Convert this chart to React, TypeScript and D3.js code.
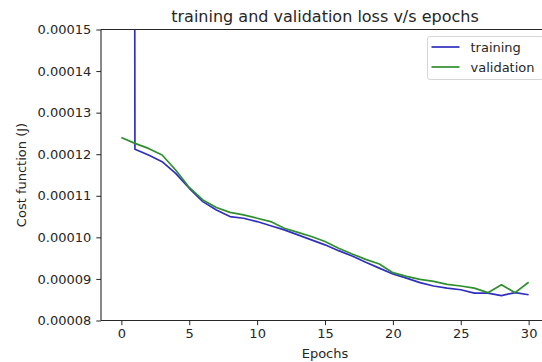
import React, { useEffect, useRef } from 'react';
import * as d3 from 'd3';

// values (first training value is far above the axis)
const epochs = d3.range(0, 31);
const trainingLoss = [
  0.0025, 0.0001212, 0.0001198, 0.0001182, 0.0001154, 0.0001118, 0.0001086,
  0.0001066, 0.0001050, 0.0001046, 0.0001038, 0.0001028, 0.0001018, 0.0001006,
  0.0000994, 0.0000982, 0.0000968, 0.0000955, 0.0000940, 0.0000926, 0.0000912,
  0.0000902, 0.0000891, 0.0000883, 0.0000878, 0.0000874, 0.0000866, 0.0000866,
  0.0000860, 0.0000867, 0.0000862,
];
const validationLoss = [
  0.0001240, 0.0001226, 0.0001214, 0.0001198, 0.0001162, 0.0001120, 0.0001090,
  0.0001072, 0.0001060, 0.0001054, 0.0001046, 0.0001038, 0.0001022, 0.0001012,
  0.0001002, 0.0000990, 0.0000974, 0.0000960, 0.0000947, 0.0000936, 0.0000915,
  0.0000906, 0.0000899, 0.0000894, 0.0000887, 0.0000883, 0.0000878, 0.0000867,
  0.0000886, 0.0000867, 0.0000892,
];
const xTicks = [0, 5, 10, 15, 20, 25, 30];
const yTicks = [0.00008, 0.00009, 0.0001, 0.00011, 0.00012, 0.00013, 0.00014, 0.00015];
const seriesNames = ['training', 'validation'];

const App = () => {
  const containerRef = useRef<HTMLDivElement>(null);

  useEffect(() => {
    d3.select(containerRef.current).selectAll('*').remove();

    const width = 542;
    const height = 362;
    const font = 'DejaVu Sans, sans-serif';
    const textColor = '#262626';
    const colors = ['#2f2fc0', '#2f8f2f'];

    const svg = d3.select(containerRef.current)
      .append('svg')
      .attr('width', width)
      .attr('height', height)
      .style('display', 'block')
      .style('background', '#fff');

    const xScale = d3.scaleLinear().domain([-1.5, 31.5]).range([101, 549]);
    const yScale = d3.scaleLinear().domain([0.00008, 0.00015]).range([320.5, 29.5]);

    // clip for lines
    svg.append('clipPath')
      .attr('id', 'plot-clip')
      .append('rect')
      .attr('x', 101)
      .attr('y', 29.5)
      .attr('width', 448)
      .attr('height', 291);

    const line = d3.line<number>()
      .x((_, i) => xScale(epochs[i]))
      .y(d => yScale(d));

    [trainingLoss, validationLoss].forEach((vals, i) => {
      svg.append('path')
        .datum(vals)
        .attr('clip-path', 'url(#plot-clip)')
        .attr('fill', 'none')
        .attr('stroke', colors[i])
        .attr('stroke-width', 1.7)
        .attr('stroke-linejoin', 'round')
        .attr('d', line);
    });

    // spines: left, bottom, top (right one falls outside the picture)
    const spine = svg.append('g')
      .attr('stroke', textColor)
      .attr('stroke-width', 1.1)
      .attr('fill', 'none');
    spine.append('line').attr('x1', 101).attr('x2', 101).attr('y1', 29.5).attr('y2', 320.5);
    spine.append('line').attr('x1', 101).attr('x2', 549).attr('y1', 320.5).attr('y2', 320.5);
    spine.append('line').attr('x1', 101).attr('x2', 549).attr('y1', 29.5).attr('y2', 29.5);

    // X axis
    const xAxis = d3.axisBottom(xScale)
      .tickValues(xTicks)
      .tickSize(4.7)
      .tickPadding(4)
      .tickFormat(d3.format('d'));
    const gx = svg.append('g')
      .attr('transform', 'translate(0,320.5)')
      .call(xAxis);
    gx.select('.domain').remove();
    gx.selectAll('line').attr('stroke', textColor);
    gx.selectAll('text')
      .attr('fill', textColor)
      .style('font-family', font)
      .style('font-size', '13px');

    // Y axis
    const yAxis = d3.axisLeft(yScale)
      .tickValues(yTicks)
      .tickSize(4.7)
      .tickPadding(5)
      .tickFormat(d3.format('.5f'));
    const gy = svg.append('g')
      .attr('transform', 'translate(101,0)')
      .call(yAxis);
    gy.select('.domain').remove();
    gy.selectAll('line').attr('stroke', textColor);
    gy.selectAll('text')
      .attr('fill', textColor)
      .style('font-family', font)
      .style('font-size', '13px');

    // Title
    svg.append('text')
      .attr('x', 325)
      .attr('y', 22)
      .attr('text-anchor', 'middle')
      .attr('fill', textColor)
      .style('font-family', font)
      .style('font-size', '16px')
      .text('training and validation loss v/s epochs');

    // X Axis Label
    svg.append('text')
      .attr('x', 325)
      .attr('y', 358)
      .attr('text-anchor', 'middle')
      .attr('fill', textColor)
      .style('font-family', font)
      .style('font-size', '13px')
      .text('Epochs');

    // Y Axis Label
    svg.append('text')
      .attr('transform', 'rotate(-90)')
      .attr('x', -175)
      .attr('y', 26)
      .attr('text-anchor', 'middle')
      .attr('fill', textColor)
      .style('font-family', font)
      .style('font-size', '13px')
      .text('Cost function (J)');

    // Legend
    const legendGroup = svg.append('g').attr('transform', 'translate(427.5,36.5)');
    legendGroup.append('rect')
      .attr('width', 116)
      .attr('height', 43)
      .attr('rx', 2.5)
      .attr('fill', '#fff')
      .attr('fill-opacity', 0.8)
      .attr('stroke', '#d6d6d6');
    seriesNames.forEach((name, i) => {
      const yPos = 10.5 + i * 20;
      legendGroup.append('line')
        .attr('x1', 4)
        .attr('x2', 32)
        .attr('y1', yPos)
        .attr('y2', yPos)
        .attr('stroke', colors[i])
        .attr('stroke-width', 1.7);
      legendGroup.append('text')
        .attr('x', 43)
        .attr('y', yPos + 4.6)
        .attr('fill', textColor)
        .style('font-family', font)
        .style('font-size', '13px')
        .text(name);
    });
  }, []);

  return (
    <div style={{ position: 'absolute', left: 0, top: 0 }}>
      <div ref={containerRef} />
    </div>
  );
};

export default App;
